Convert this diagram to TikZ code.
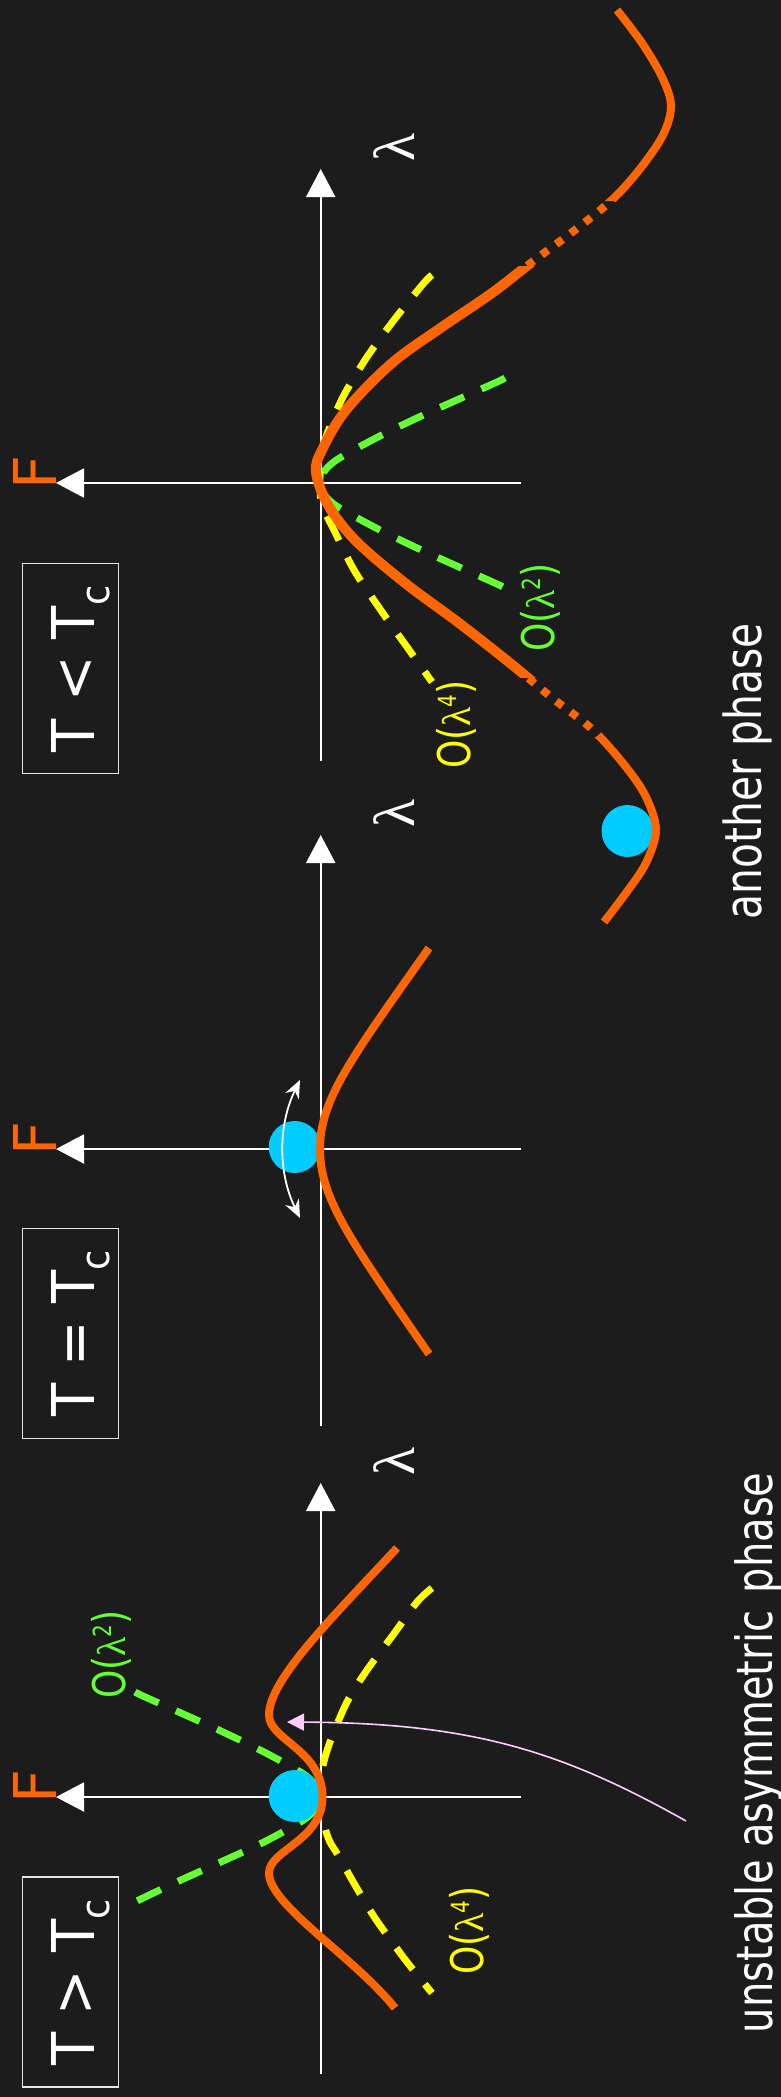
\documentclass[tikz,border=0pt]{standalone}
\usepackage{fontspec}
\usepackage{graphicx}
\setmainfont{DejaVu Sans}
\newfontfamily\capfont[FakeStretch=0.8]{DejaVu Sans}
\newfontfamily\boxfont[FakeStretch=0.92]{DejaVu Sans}
\newfontfamily\grk{Liberation Serif}
\usetikzlibrary{arrows.meta}

\definecolor{bgc}{HTML}{1C1C1C}
\definecolor{fcurve}{HTML}{FF6600}
\definecolor{ballc}{HTML}{00CCFF}
\definecolor{quadc}{HTML}{66FF33}
\definecolor{quartc}{HTML}{FFFF00}
\definecolor{hintc}{HTML}{FFCCFF}
\definecolor{framec}{HTML}{E6E6E6}

% Greek letter in a serif face at a given size
\newcommand\glam[1]{{\grk\fontsize{#1}{#1}\selectfont λ}}
% order-of-magnitude label O(lambda^n)
\newcommand\ordlabel[1]{O(\glam{40}\raisebox{14pt}{\fontsize{25}{25}\selectfont #1})}

% free-energy curve below the transition (double well)
\newcommand\curveLow{plot[smooth, tension=0.55] coordinates {
 (617,-10) (642,-43) (662,-77) (671,-105) (664,-133) (643,-165) (614,-198)
 (575,-230) (532,-262) (492,-293) (442,-327) (392,-363) (346,-410) (322,-450)
 (316,-472) (328,-505) (356,-541) (405,-583) (459,-623) (510,-663) (551,-697)
 (593,-730) (626,-767) (646,-797) (656,-830) (646,-863) (626,-893) (604,-922)}}

\begin{document}
\begin{tikzpicture}[x=1pt, y=1pt,
  axisline/.style={draw=white, line width=2pt, -{Triangle[length=28pt,width=29pt]}},
  framebox/.style={draw=framec, line width=1.4pt, minimum width=95.6pt,
    minimum height=210pt, inner sep=0pt},
  boxtext/.style={text=white, rotate=90, anchor=base, inner sep=0pt,
    font=\boxfont\fontsize{59}{60}\selectfont},
  flabel/.style={text=fcurve, rotate=90, anchor=base, inner sep=0pt,
    font=\fontsize{59}{60}\selectfont},
  lamlabel/.style={text=white, rotate=90, anchor=base, inner sep=0pt,
    font=\grk\fontsize{58}{58}\selectfont},
  orderlabel/.style={rotate=90, anchor=base west, inner sep=0pt,
    font=\capfont\fontsize{45}{45}\selectfont},
  caption/.style={text=white, rotate=90, anchor=base west, inner sep=0pt},
  ball/.style={circle, fill=ballc, minimum size=52pt, inner sep=0pt},
  quadcurve/.style={draw=quadc, line width=7pt, dash pattern=on 26pt off 19pt},
  quartcurve/.style={draw=quartc, line width=7pt, dash pattern=on 27pt off 19pt},
  fsolid/.style={draw=fcurve, line width=8pt},
  fthick/.style={draw=fcurve, line width=10pt},
  fdotted/.style={draw=fcurve, line width=8pt, dash pattern=on 8pt off 10pt},
]
\fill[bgc] (0,0) rectangle (781,-2097);
\useasboundingbox (0,0) rectangle (781,-2097);

% ---------- temperature boxes ----------
\node[framebox] (box1) at (70.5,-1982) {};
\node[framebox] (box2) at (70.5,-1333.5) {};
\node[framebox] (box3) at (70.5,-668.5) {};
\node[boxtext] (t1) at (94,-1982.5) {T > T\raisebox{-15pt}{\fontsize{40}{40}\selectfont c}};
\node[boxtext] (t2) at (94,-1333.5) {T = T\raisebox{-15pt}{\fontsize{40}{40}\selectfont c}};
\node[boxtext] (t3) at (94,-669) {T < T\raisebox{-15pt}{\fontsize{40}{40}\selectfont c}};

% ---------- axes ----------
\coordinate (f1s) at (520.7,-1797);  \coordinate (f1e) at (56,-1797);
\coordinate (l1s) at (320.7,-2074);  \coordinate (l1e) at (320.7,-1483);
\coordinate (f2s) at (520.7,-1149);  \coordinate (f2e) at (56,-1149);
\coordinate (l2s) at (320.7,-1426);  \coordinate (l2e) at (320.7,-835);
\coordinate (f3s) at (520.7,-483);   \coordinate (f3e) at (56,-483);
\coordinate (l3s) at (320.7,-761);   \coordinate (l3e) at (320.7,-169);
\draw[axisline] (f1s) -- (f1e);
\draw[axisline] (l1s) -- (l1e);
\draw[axisline] (f2s) -- (f2e);
\draw[axisline] (l2s) -- (l2e);
\draw[axisline] (f3s) -- (f3e);
\draw[axisline] (l3s) -- (l3e);

\node[flabel] (F1) at (56,-1787) {F};
\node[flabel] (F2) at (56,-1139) {F};
\node[flabel] (F3) at (56,-473) {F};
\node[lamlabel] (L1) at (414,-1461) {λ};
\node[lamlabel] (L2) at (414,-813) {λ};
\node[lamlabel] (L3) at (414,-147) {λ};

% ---------- expansion terms ----------
\draw[quadcurve] plot[smooth, tension=0.5] coordinates {
 (135,-1692) (143,-1696) (181,-1713) (223,-1732) (264,-1752) (302,-1773)
 (315.5,-1785) (320,-1797) (315.5,-1809) (302,-1821) (264,-1842) (223,-1861)
 (181,-1880) (143,-1898) (135,-1902)};
\draw[quartcurve] plot[smooth, tension=0.5] coordinates {
 (432,-1588) (417,-1602) (393,-1635) (367,-1670) (347,-1702) (330,-1742)
 (322,-1770) (320,-1797) (323,-1820) (329,-1840) (338,-1855) (355,-1885)
 (373,-1915) (387,-1935) (407,-1962) (432,-1993)};

\draw[quadcurve] plot[smooth, tension=0.5] coordinates {
 (505,-378) (497,-382) (459,-399) (417,-418) (376,-438) (338,-459)
 (324.5,-471) (320,-483) (324.5,-495) (338,-507) (376,-528) (417,-548)
 (459,-567) (497,-584) (505,-588)};
\draw[quartcurve] plot[smooth, tension=0.5] coordinates {
 (432,-275) (423,-284) (394,-320) (367,-357) (343,-397) (326,-437)
 (321,-460) (320,-483) (322,-505) (334,-530) (354,-570) (380,-609)
 (407,-647) (432,-682)};

% ---------- states ----------
\node[ball] (b1) at (294.7,-1796) {};
\node[ball] (b2) at (294.7,-1147) {};
\node[ball] (b3) at (627.5,-831) {};

% ---------- free energy ----------
% above the transition: two shallow side wells around a central minimum
\draw[fsolid] (397,-1548) .. controls (330,-1620) and (269,-1680) .. (269,-1715)
  .. controls (269,-1740) and (322.5,-1750) .. (322.5,-1797)
  .. controls (322.5,-1840.6) and (269,-1849.8) .. (269,-1873)
  .. controls (269,-1905) and (352,-1955) .. (395,-2008);
% at the transition: flat-bottomed well
\draw[fsolid] (429,-948) .. controls (350,-1060) and (320,-1100) .. (320,-1149)
  .. controls (320,-1198) and (350,-1240) .. (429,-1354);
% below the transition: double well, unstable stretches dotted
\begin{scope}
  \clip (0,-266) rectangle (781,-677);
  \draw[fthick] \curveLow;
\end{scope}
\begin{scope}
  \clip (0,0) rectangle (781,-201) (0,-737) rectangle (781,-1000);
  \draw[fsolid] \curveLow;
\end{scope}
\begin{scope}
  \clip (0,-201) rectangle (781,-266) (0,-677) rectangle (781,-737);
  \draw[fdotted] \curveLow;
\end{scope}

% ---------- arrows ----------
\coordinate (h1) at (686,-1821);
\coordinate (h2) at (287,-1722);
\draw[hintc, line width=1.6pt, -{Triangle[length=17pt,width=17pt]}]
  (h1) .. controls (560,-1750) and (470,-1723) .. (h2);
\coordinate (w1) at (300,-1080);
\coordinate (w2) at (300,-1218);
\draw[white, line width=1.8pt,
  {Stealth[length=18pt,width=15pt,inset=6pt]}-{Stealth[length=18pt,width=15pt,inset=6pt]}]
  (w1) .. controls (278,-1125) and (278,-1173) .. (w2);

% ---------- labels ----------
\node[orderlabel, text=quadc] (q1) at (125,-1699) {\ordlabel{2}};
\node[orderlabel, text=quartc] (r1) at (483,-1975) {\ordlabel{4}};
\node[orderlabel, text=quartc] (r3) at (470,-769) {\ordlabel{4}};
\node[orderlabel, text=quadc] (q3) at (554,-652) {\ordlabel{2}};

\node[caption, font=\capfont\fontsize{50}{50}\selectfont] (c1) at (772,-2033.4)
  {unstable asymmetric\hspace{17.7pt}phase};
\node[caption, font=\capfont\fontsize{51}{51}\selectfont] (c3) at (761,-919.4)
  {another phase};
\end{tikzpicture}
\end{document}
